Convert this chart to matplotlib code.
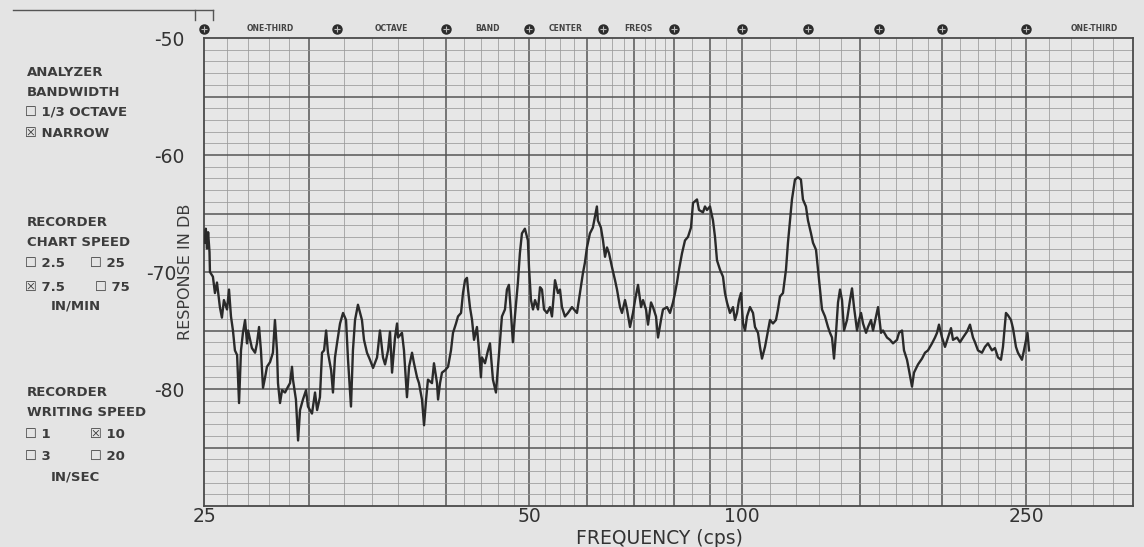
import numpy as np
import matplotlib.pyplot as plt
from matplotlib.lines import Line2D

# narrow band analysis trace
freq = [25.02, 25.08, 25.13, 25.18, 25.24, 25.26, 25.39, 25.48, 25.57, 25.70,
        25.79, 25.88, 26.02, 26.11, 26.20, 26.29, 26.38, 26.48, 26.57, 26.66,
        26.75, 26.85, 26.94, 26.99, 27.17, 27.32, 27.41, 27.51, 27.60, 27.70,
        27.80, 27.89, 28.04, 28.18, 28.28, 28.38, 28.43, 28.53, 28.63, 28.78,
        28.93, 29.03, 29.13, 29.18, 29.33, 29.44, 29.54, 29.69, 29.85, 29.95,
        30.16, 30.32, 30.43, 30.58, 30.69, 30.80, 30.91, 31.01, 31.18, 31.28,
        31.39, 31.50, 31.71, 31.92, 32.13, 32.27, 32.48, 32.62, 32.77, 32.98,
        33.27, 33.42, 33.64, 33.86, 34.09, 34.39, 34.61, 34.84, 35.00, 35.23,
        35.38, 35.54, 35.77, 35.93, 36.01, 36.32, 36.48, 36.72, 36.89, 37.13,
        37.29, 37.54, 37.70, 37.95, 38.12, 38.29, 38.45, 38.79, 38.96, 39.22,
        39.31, 39.48, 39.65, 39.92, 40.22, 40.54, 40.76, 41.09, 41.31, 41.65,
        41.87, 42.10, 42.32, 42.44, 42.66, 42.90, 43.13, 43.47, 43.71, 43.94,
        44.06, 44.42, 44.78, 45.02, 45.26, 45.38, 45.75, 46.00, 46.24, 46.49,
        46.87, 47.12, 47.37, 47.63, 47.88, 48.14, 48.53, 48.79, 49.06, 49.45,
        49.85, 50.00, 50.31, 50.63, 50.95, 51.43, 51.75, 52.07, 52.40, 52.89,
        53.39, 53.72, 54.23, 54.73, 55.08, 55.42, 55.94, 56.47, 57.18, 57.54,
        58.08, 58.62, 59.17, 59.54, 59.92, 60.48, 61.04, 61.81, 62.00, 62.59,
        63.00, 63.43, 63.85, 64.29, 64.94, 65.60, 66.04, 66.71, 67.16, 67.84,
        68.30, 68.99, 69.69, 70.17, 70.88, 71.60, 72.08, 72.81, 73.30, 74.05,
        74.54, 75.30, 75.81, 76.57, 77.09, 78.14, 78.93, 79.73, 80.26, 80.79,
        81.32, 82.13, 82.94, 83.76, 84.59, 85.15, 86.27, 86.84, 87.98, 88.56,
        89.14, 90.03, 90.92, 91.52, 92.12, 93.03, 93.95, 94.57, 95.19, 96.13,
        97.09, 97.72, 98.37, 99.02, 99.67, 100.34, 101.02, 101.71, 102.74, 103.79,
        104.49, 105.56, 106.27, 106.99, 108.09, 109.19, 109.93, 111.04, 112.17, 112.93,
        113.70, 114.86, 116.03, 116.81, 117.61, 118.40, 119.61, 120.82, 122.05, 122.88,
        124.13, 125.00, 126.31, 127.19, 128.53, 129.42, 130.33, 131.24, 132.61, 134.00,
        134.94, 135.88, 136.83, 137.79, 138.75, 139.72, 140.69, 141.68, 143.16, 144.66,
        145.67, 146.69, 148.23, 149.27, 150.31, 151.36, 152.95, 154.01, 155.63, 156.72,
        158.36, 159.47, 161.14, 162.28, 164.60, 166.36, 168.13, 170.53, 171.74, 173.58,
        174.81, 176.68, 177.94, 179.84, 181.12, 183.70, 186.32, 188.31, 190.32, 193.04,
        195.10, 196.49, 197.88, 200.00, 201.60, 203.21, 204.84, 205.93, 208.13, 209.79,
        211.47, 213.72, 215.43, 217.16, 218.31, 220.06, 222.40, 224.18, 225.98, 228.38,
        230.21, 232.05, 233.91, 235.16, 237.04, 238.30, 240.21, 241.49, 243.42, 244.71,
        247.33, 248.65, 250.64, 251.30]

level = [-67.5, -66.3, -68.0, -66.6, -68.3, -70.0, -70.4, -71.8, -70.9, -73.0,
         -73.9, -72.4, -73.2, -71.5, -73.8, -75.0, -76.7, -77.1, -81.2, -76.7,
         -75.2, -74.1, -76.1, -75.0, -76.5, -76.9, -76.1, -74.7, -76.7, -79.9,
         -79.0, -78.1, -77.7, -76.9, -74.1, -76.7, -79.5, -81.2, -80.1, -80.3,
         -79.8, -79.5, -78.1, -79.2, -80.9, -84.4, -81.8, -80.9, -80.1, -81.5,
         -82.1, -80.3, -81.8, -80.7, -76.9, -76.7, -75.0, -76.9, -78.4, -80.3,
         -77.3, -76.1, -74.4, -73.5, -74.1, -77.5, -81.5, -76.7, -74.1, -72.8,
         -74.1, -75.8, -76.9, -77.5, -78.2, -77.3, -75.0, -77.3, -77.9, -76.7,
         -75.1, -78.6, -75.6, -74.4, -75.6, -75.2, -76.7, -80.7, -78.1, -76.9,
         -77.8, -79.0, -79.5, -80.9, -83.1, -80.9, -79.2, -79.5, -77.8, -79.5,
         -80.9, -79.5, -78.6, -78.4, -78.1, -76.7, -75.2, -74.4, -73.8, -73.5,
         -71.8, -70.7, -70.5, -71.5, -73.0, -74.1, -75.8, -74.7, -76.7, -79.0,
         -77.3, -77.8, -76.7, -76.1, -78.1, -79.2, -80.3, -78.1, -76.1, -73.8,
         -73.2, -71.5, -71.1, -73.5, -76.0, -73.8, -70.9, -68.4, -66.7, -66.3,
         -67.3, -69.6, -72.4, -73.2, -72.4, -73.2, -71.3, -71.5, -73.2, -73.5,
         -73.0, -73.8, -70.7, -71.8, -71.5, -73.0, -73.8, -73.5, -73.0, -73.2,
         -73.5, -71.8, -70.1, -69.2, -67.9, -66.7, -66.2, -64.4, -65.6, -66.2,
         -67.3, -68.7, -67.9, -68.4, -69.6, -70.7, -71.5, -73.0, -73.5, -72.4,
         -73.2, -74.7, -73.5, -72.4, -71.1, -73.0, -72.4, -73.2, -74.5, -72.6,
         -73.0, -73.8, -75.6, -74.1, -73.2, -73.0, -73.5, -72.6, -71.8, -70.9,
         -69.8, -68.4, -67.3, -67.0, -66.2, -64.1, -63.8, -64.7, -64.9, -64.4,
         -64.7, -64.4, -65.6, -67.0, -69.0, -69.8, -70.4, -71.8, -72.6, -73.5,
         -73.0, -74.1, -73.5, -72.4, -71.8, -74.4, -75.0, -73.8, -73.0, -73.5,
         -74.7, -75.2, -76.4, -77.4, -76.4, -75.0, -74.1, -74.4, -74.1, -73.2,
         -72.1, -71.8, -69.8, -67.5, -65.6, -63.8, -62.1, -61.9, -62.1, -63.8,
         -64.4, -65.6, -66.7, -67.5, -68.1, -69.8, -71.5, -73.2, -73.8, -74.7,
         -75.2, -75.6, -77.4, -75.2, -72.6, -71.5, -72.4, -75.0, -74.1, -72.4,
         -71.4, -73.0, -75.0, -74.1, -73.5, -74.4, -75.2, -74.7, -74.1, -75.0,
         -73.8, -73.0, -75.2, -75.0, -75.6, -75.8, -76.1, -75.8, -75.2, -75.0,
         -76.7, -77.5, -78.4, -79.8, -78.6, -77.9, -77.4, -76.9, -76.7, -76.1,
         -75.6, -75.2, -74.5, -75.6, -76.4, -75.6, -74.8, -75.8, -75.6, -76.0,
         -75.6, -75.1, -74.5, -75.6, -76.0, -76.7, -76.9, -76.4, -76.1, -76.7,
         -76.5, -77.3, -77.5, -76.4, -73.5, -73.7, -74.1, -74.8, -76.4, -76.9,
         -77.5, -76.7, -75.2, -76.7]

band_centers = [25, 31.5, 40, 50, 63, 80, 100, 125, 160, 200, 250]
band_words = ["ONE-THIRD", "OCTAVE", "BAND", "CENTER", "FREQS"]
x_ticks = [25, 50, 100, 250]
y_ticks = [-50, -60, -70, -80]
y_tick_labels = ["-50", "-60", "-70", "-80"]

# the paper is not a clean log scale: calibrate it on the band-center marks
cal_freq = [1, 25, 31.5, 40, 50, 63, 80, 100, 125, 160, 200, 250, 300, 1e5]
cal_pos = [-1851, 0, 133, 242, 325, 399, 470, 538, 604, 675, 738, 822, 929, 4340]
log_cal = np.log(cal_freq)


def fwd(f):
    return np.interp(np.log(np.clip(f, 1e-3, None)), log_cal, cal_pos)


def inv(p):
    return np.exp(np.interp(p, cal_pos, log_cal))


paper = '#e4e4e4'
ink = '#333333'
fig = plt.figure(figsize=(11.44, 5.47), dpi=100, facecolor=paper)
ax = fig.add_axes([204 / 1144, 41 / 547, 929 / 1144, 468 / 547])
ax.set_facecolor('#e7e7e7')
ax.set_xscale('function', functions=(fwd, inv))
ax.set_xlim(25, 300)
ax.set_ylim(-90, -50)

# chart paper grid
minor_f = np.concatenate([np.arange(26, 30, 1.0), np.arange(32, 50, 2.0),
                          np.arange(52.5, 80, 2.5), np.arange(85, 100, 5.0),
                          np.arange(110, 300, 10.0)])
major_f = [30, 40, 50, 60, 70, 80, 90, 100, 150, 200, 250]
for f in minor_f:
    if f not in major_f:
        ax.axvline(f, color='#999999', lw=0.55, zorder=1)
for f in major_f:
    ax.axvline(f, color='#555555', lw=1.1, zorder=1)
for v in range(-89, -50):
    if v % 5:
        ax.axhline(v, color='#999999', lw=0.55, zorder=1)
for v in range(-85, -50, 5):
    ax.axhline(v, color='#555555', lw=1.1, zorder=1)

ax.plot(freq, level, color='#2a2a2a', lw=1.7, zorder=3)

for s in ax.spines.values():
    s.set_color('#4a4a4a')
    s.set_linewidth(1.3)

ax.set_xticks(x_ticks)
ax.set_xticklabels([str(t) for t in x_ticks])
ax.xaxis.set_minor_locator(plt.NullLocator())
ax.set_yticks(y_ticks)
ax.set_yticklabels(y_tick_labels)
ax.tick_params(axis='both', length=0, labelsize=13.5, labelcolor=ink)
ax.tick_params(axis='y', pad=14)
ax.tick_params(axis='x', pad=1)
# on the sheet the -70 is printed a little further left
ax.get_yticklabels()[2].set_x(-0.009)

ax.text(-0.020, 0.5, "RESPONSE IN DB", transform=ax.transAxes, rotation=90,
        ha='center', va='center', fontsize=11.5, color='#3a3a3a')
fig.text(659 / 1144, 1 - 538 / 547, "FREQUENCY (cps)", ha='center', va='center',
         fontsize=13.5, color=ink)

# band center marks along the top edge
tr = ax.get_xaxis_transform()
ax.plot(band_centers, [1.02] * len(band_centers), 'o', ms=6.5, color='#2b2b2b',
        transform=tr, clip_on=False)
ax.plot(band_centers, [1.02] * len(band_centers), '+', ms=4, mew=0.8,
        color='#bdbdbd', transform=tr, clip_on=False)
for i, w in enumerate(band_words):
    xm = np.sqrt(band_centers[i] * band_centers[i + 1])
    ax.text(xm, 1.02, w, transform=tr, ha='center', va='center',
            fontsize=5.5, fontweight='bold', color='#444444')
ax.text(np.sqrt(250 * 315), 1.02, "ONE-THIRD", transform=tr, ha='center',
        va='center', fontsize=5.5, fontweight='bold', color='#444444')

# recorder settings printed on the left margin
left_notes = [
    ("ANALYZER", 27, 72), ("BANDWIDTH", 27, 92),
    ("\u2610 1/3 OCTAVE", 25, 113), ("\u2612 NARROW", 25, 133),
    ("RECORDER", 27, 222), ("CHART SPEED", 27, 243),
    ("\u2610 2.5", 25, 263), ("\u2610 25", 90, 263),
    ("\u2612 7.5", 25, 287), ("\u2610 75", 95, 287),
    ("IN/MIN", 51, 306),
    ("RECORDER", 27, 393), ("WRITING SPEED", 27, 413),
    ("\u2610 1", 25, 434), ("\u2612 10", 90, 434),
    ("\u2610 3", 25, 456), ("\u2610 20", 90, 456),
    ("IN/SEC", 51, 477),
]
for txt, px, py in left_notes:
    fig.text(px / 1144, 1 - py / 547, txt, ha='left', va='center',
             fontsize=9.5, fontweight='bold', color='#3c3c3c')

# small bracket at the top-left corner of the sheet
fig.add_artist(Line2D([13 / 1144, 213 / 1144], [1 - 10 / 547] * 2,
                      color='#555555', lw=1))
for bx in (195, 213):
    fig.add_artist(Line2D([bx / 1144] * 2, [1 - 10 / 547, 1 - 20 / 547],
                          color='#555555', lw=1))

fig.savefig('out.png', dpi=100, facecolor=paper)
